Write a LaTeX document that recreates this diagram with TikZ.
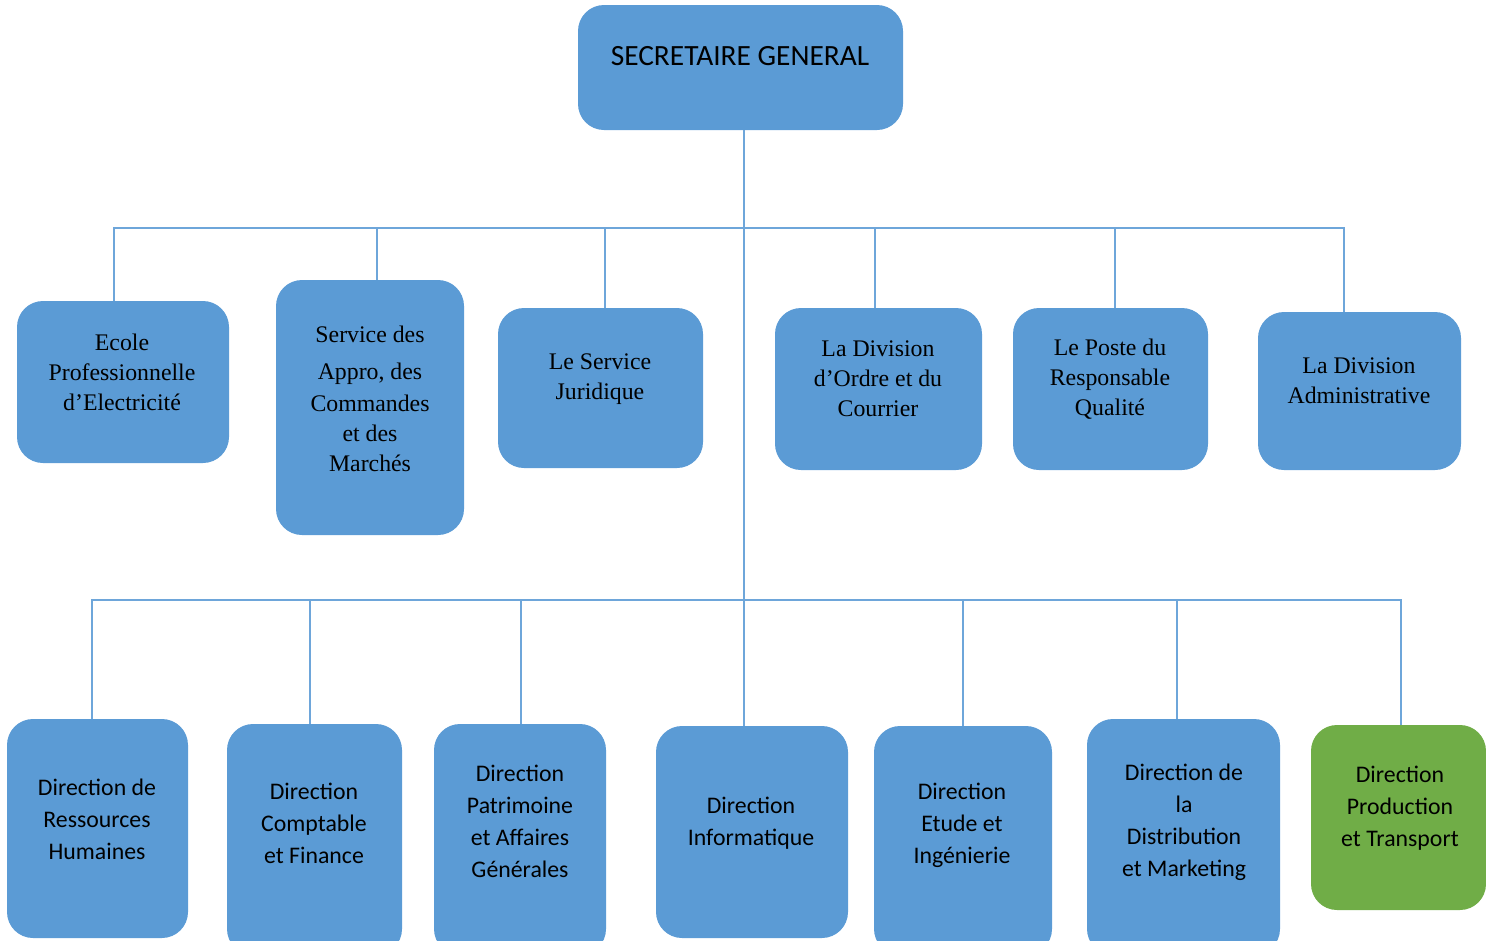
\documentclass[tikz,border=0pt]{standalone}
\usepackage{fontspec}
\setmainfont{Liberation Serif}
\newfontfamily\calibri{Carlito}
\usepackage{tikz}
\definecolor{boxblue}{HTML}{5B9BD5}
\definecolor{boxgreen}{HTML}{70AD47}
\definecolor{linkblue}{HTML}{6EA6DA}

\begin{document}
\begin{tikzpicture}[
        x=1pt, y=-1pt,
        box/.style={rectangle, draw=none, fill=boxblue, rounded corners=26pt, inner sep=0pt},
        greenbox/.style={box, fill=boxgreen},
        serif/.style={font=\fontsize{23.8}{30}\selectfont, align=center, inner sep=0pt},
        sans/.style={font=\calibri\fontsize{23.8}{32}\selectfont, align=center, inner sep=0pt},
        link/.style={draw=linkblue, line width=1.3pt}
    ]
    \clip (0,0) rectangle (1486,940);

    % --- Top ---
    \node (sg) [box, minimum width=325pt, minimum height=125pt] at (740.5,67.5) {};
    \node (sg-t) [sans, font=\calibri\fontsize{29.4}{34}\selectfont] at (740,56) {SECRETAIRE GENERAL};

    % --- First row (services) ---
    \node (ecole) [box, minimum width=212pt, minimum height=162pt] at (123,382) {};
    \node (service) [box, minimum width=188pt, minimum height=255pt] at (370,407.5) {};
    \node (juridique) [box, minimum width=205pt, minimum height=160pt] at (600.5,388) {};
    \node (ordre) [box, minimum width=207pt, minimum height=162pt] at (878.5,389) {};
    \node (poste) [box, minimum width=195pt, minimum height=162pt] at (1110.5,389) {};
    \node (admin) [box, minimum width=203pt, minimum height=158pt] at (1359.5,391) {};

    \node (ecole-t) [serif] at (122,372) {Ecole\\Professionnelle\\d’Electricité};
    \node (service-t) [serif] at (370,399) {Service des\\[7pt]Appro, des\\[2pt]Commandes\\et des\\Marchés};
    \node (juridique-t) [serif] at (600,379) {Le Service\\Juridique};
    \node (ordre-t) [serif] at (878,379) {La Division\\d’Ordre et du\\Courrier};
    \node (poste-t) [serif] at (1110,379) {Le Poste du\\Responsable\\Qualité};
    \node (admin-t) [serif] at (1359,381) {La Division\\Administrative};

    % --- Second row (directions) ---
    \node (drh) [box, minimum width=181pt, minimum height=219pt] at (97.5,828.5) {};
    \node (compta) [box, minimum width=175pt, minimum height=231pt] at (314.5,839.5) {};
    \node (patrimoine) [box, minimum width=172pt, minimum height=231pt] at (520,839.5) {};
    \node (info) [box, minimum width=192pt, minimum height=212pt] at (752,832) {};
    \node (etude) [box, minimum width=178pt, minimum height=229pt] at (963,840.5) {};
    \node (distrib) [box, minimum width=193pt, minimum height=236pt] at (1183.5,837) {};
    \node (prod) [greenbox, minimum width=175pt, minimum height=185pt] at (1398.5,817.5) {};

    \node (drh-t) [sans] at (97,819) {Direction de\\Ressources\\Humaines};
    \node (compta-t) [sans] at (314,823) {Direction\\Comptable\\et Finance};
    \node (patrimoine-t) [sans] at (520,821) {Direction\\Patrimoine\\et Affaires\\Générales};
    \node (info-t) [sans] at (751,823) {Direction\\Informatique};
    \node (etude-t) [sans] at (962,825) {Direction\\Etude et\\Ingénierie};
    \node (distrib-t) [sans] at (1184,822) {Direction de\\la\\Distribution\\et Marketing};
    \node (prod-t) [sans] at (1400,808) {Direction\\Production\\et Transport};

    % --- Connectors ---
    \coordinate (bus1) at (744,228);
    \coordinate (bus2) at (744,600);
    \draw[link] ([xshift=3.5pt]sg.south) -- ([xshift=-8pt]info.north);

    \draw[link] ([xshift=-9pt]ecole.north) |- (bus1);
    \draw[link] ([xshift=7pt]service.north) |- (bus1);
    \draw[link] ([xshift=4.5pt]juridique.north) |- (bus1);
    \draw[link] ([xshift=-3.5pt]ordre.north) |- (bus1);
    \draw[link] ([xshift=4.5pt]poste.north) |- (bus1);
    \draw[link] ([xshift=-15.5pt]admin.north) |- (bus1);

    \draw[link] ([xshift=-5.5pt]drh.north) |- (bus2);
    \draw[link] ([xshift=-4.5pt]compta.north) |- (bus2);
    \draw[link] ([xshift=1pt]patrimoine.north) |- (bus2);
    \draw[link] (etude.north) |- (bus2);
    \draw[link] ([xshift=-6.5pt]distrib.north) |- (bus2);
    \draw[link] ([xshift=2.5pt]prod.north) |- (bus2);

\end{tikzpicture}
\end{document}
